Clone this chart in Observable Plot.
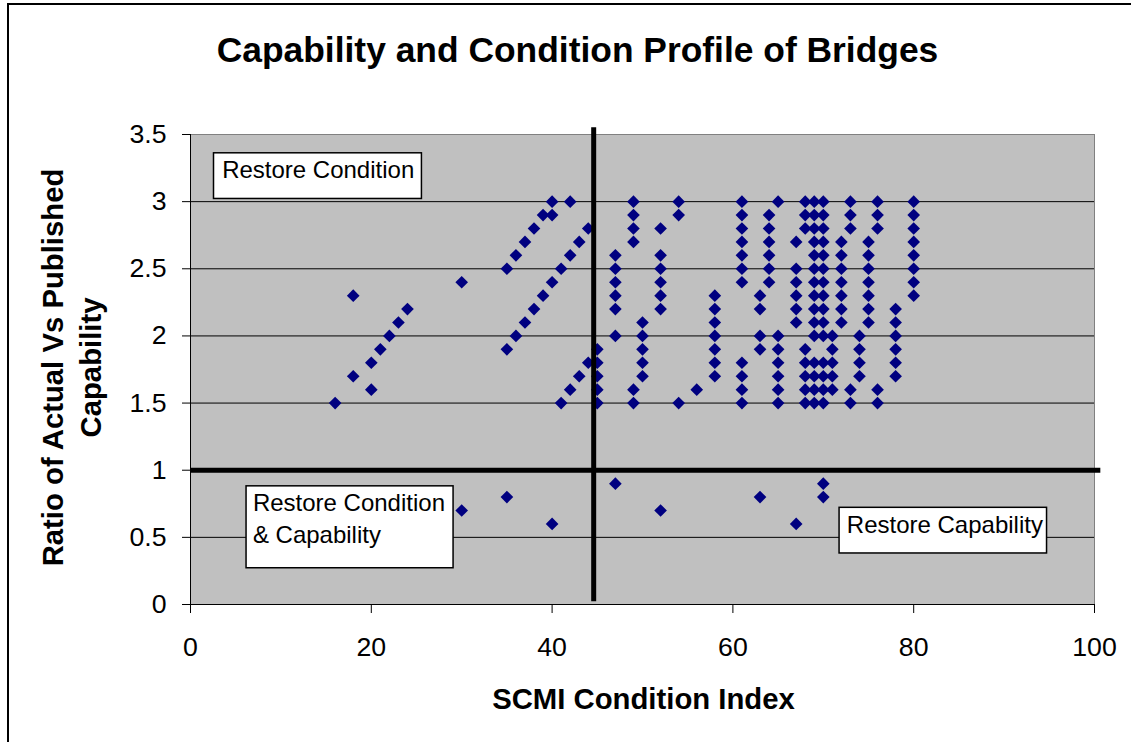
<!DOCTYPE html>
<html>
<head>
<meta charset="utf-8">
<script src="https://cdn.jsdelivr.net/npm/d3@7"></script>
<script src="https://cdn.jsdelivr.net/npm/@observablehq/plot@0.6"></script>
<style>
  html, body { margin: 0; padding: 0; background: #fff; }
  #wrap { position: relative; width: 1131px; height: 742px; overflow: hidden; }
  #border { position: absolute; left: 7px; top: 3px; width: 2000px; height: 2000px;
            border-left: 2px solid #000; border-top: 2px solid #000; }
  #chart { position: absolute; left: 0; top: 0; }
</style>
</head>
<body>
<div id="wrap"><div id="border"></div><div id="chart"></div></div>
<script>
// ---- Data ----
const conditionIndex = [
  16,
  18, 18,
  20, 20, 21, 22, 23, 24,
  30, 30,
  35, 35, 35,
  36, 36, 37, 37, 38, 38, 39, 39,
  40, 40, 40, 40,
  41, 41, 42, 42, 42, 43, 43, 44, 44,
  45, 45, 45, 45, 45,
  47, 47, 47, 47, 47, 47, 47,
  49, 49, 49, 49, 49, 49,
  50, 50, 50, 50, 50,
  52, 52, 52, 52, 52, 52, 52,
  54, 54, 54,
  56,
  58, 58, 58, 58, 58, 58, 58,
  61, 61, 61, 61, 61, 61, 61, 61, 61, 61, 61,
  63, 63, 63, 63, 63,
  64, 64, 64, 64, 64, 64,
  65, 65, 65, 65, 65, 65, 65,
  67, 67, 67, 67, 67, 67, 67,
  68, 68, 68, 68, 68, 68, 68, 68,
  69, 69, 69, 69, 69, 69, 69, 69, 69, 69, 69, 69, 69, 69, 69,
  70, 70, 70, 70, 70, 70, 70, 70, 70, 70, 70, 70, 70, 70, 70, 70, 70,
  71, 71, 71, 71, 71,
  72, 72, 72, 72, 72, 72, 72,
  73, 73, 73, 73, 73,
  74, 74, 74, 74,
  75, 75, 75, 75, 75, 75, 75,
  76, 76, 76, 76, 76,
  78, 78, 78, 78, 78, 78,
  80, 80, 80, 80, 80, 80, 80, 80
];
const capabilityRatio = [
  1.5,
  1.7, 2.3,
  1.6, 1.8, 1.9, 2.0, 2.1, 2.2,
  2.4, 0.7,
  2.5, 1.9, 0.8,
  2.6, 2.0, 2.7, 2.1, 2.8, 2.2, 2.9, 2.3,
  3.0, 2.9, 2.4, 0.6,
  2.5, 1.5, 3.0, 2.6, 1.6, 2.7, 1.7, 2.8, 1.8,
  1.9, 1.8, 1.7, 1.6, 1.5,
  2.6, 2.5, 2.4, 2.3, 2.2, 2.0, 0.9,
  3.0, 2.9, 2.8, 2.7, 1.6, 1.5,
  2.1, 2.0, 1.9, 1.8, 1.7,
  2.8, 2.6, 2.5, 2.4, 2.3, 2.2, 0.7,
  3.0, 2.9, 1.5,
  1.6,
  2.3, 2.2, 2.1, 2.0, 1.9, 1.8, 1.7,
  3.0, 2.9, 2.8, 2.7, 2.6, 2.5, 2.4, 1.8, 1.7, 1.6, 1.5,
  2.3, 2.2, 2.0, 1.9, 0.8,
  2.9, 2.8, 2.7, 2.6, 2.5, 2.4,
  3.0, 2.0, 1.9, 1.8, 1.7, 1.6, 1.5,
  2.7, 2.5, 2.4, 2.3, 2.2, 2.1, 0.6,
  3.0, 2.9, 2.8, 1.9, 1.8, 1.7, 1.6, 1.5,
  3.0, 2.9, 2.8, 2.7, 2.6, 2.5, 2.4, 2.3, 2.2, 2.1, 2.0, 1.8, 1.7, 1.6, 1.5,
  3.0, 2.9, 2.8, 2.7, 2.6, 2.5, 2.4, 2.3, 2.2, 2.1, 2.0, 1.8, 1.7, 1.6, 1.5, 0.9, 0.8,
  2.0, 1.9, 1.8, 1.7, 1.6,
  2.7, 2.6, 2.5, 2.4, 2.3, 2.2, 2.1,
  3.0, 2.9, 2.8, 1.6, 1.5,
  2.0, 1.9, 1.8, 1.7,
  2.7, 2.6, 2.5, 2.4, 2.3, 2.2, 2.1,
  3.0, 2.9, 2.8, 1.6, 1.5,
  2.2, 2.1, 2.0, 1.9, 1.8, 1.7,
  3.0, 2.9, 2.8, 2.7, 2.6, 2.5, 2.4, 2.3
];
const xTicks = [0, 20, 40, 60, 80, 100];
const yTicks = [0, 0.5, 1, 1.5, 2, 2.5, 3, 3.5];
const gridValues = [0.5, 1, 1.5, 2, 2.5, 3];
const conditionThreshold = [44.6];
const capabilityThreshold = [1];
const chartTitle = "Capability and Condition Profile of Bridges";
const xTitle = "SCMI Condition Index";
const yTitle = "Ratio of Actual Vs Published\nCapability";
const quadrantLabels = ["Restore Condition", "Restore Condition\n& Capability", "Restore Capability"];

// ---- Layout (annotation boxes in data units) ----
const boxLayout = [
  {x1: 2.6, x2: 25.6, y1: 3.02, y2: 3.36, tx: 3.5},
  {x1: 6.2, x2: 29.1, y1: 0.27, y2: 0.88, tx: 6.9},
  {x1: 71.8, x2: 94.75, y1: 0.38, y2: 0.72, tx: 72.6}
];
const boxes = boxLayout.map((b, i) => ({...b, label: quadrantLabels[i]}));
const points = conditionIndex.map((x, i) => ({x, y: capabilityRatio[i]}));

const FONT = '"Liberation Sans", Arial, Helvetica, sans-serif';

const chart = Plot.plot({
  width: 1131,
  height: 742,
  marginLeft: 190,
  marginRight: 37,
  marginTop: 134,
  marginBottom: 138,
  style: {fontFamily: FONT, background: "transparent", color: "#000", overflow: "visible"},
  x: {domain: [0, 100]},
  y: {domain: [0, 3.5]},
  marks: [
    Plot.frame({fill: "#C0C0C0"}),
    Plot.gridY(gridValues, {stroke: "#000", strokeOpacity: 1, strokeWidth: 1}),
    Plot.frame({stroke: "#808080", strokeWidth: 1}),
    Plot.ruleX([0], {stroke: "#000", strokeWidth: 1}),
    Plot.ruleY([0], {stroke: "#000", strokeWidth: 1}),
    Plot.axisX(xTicks, {tickSize: 9, tickPadding: 24, fontSize: 26.7, label: null, tickFormat: d => String(d)}),
    Plot.axisY(yTicks, {tickSize: 8, tickPadding: 16, fontSize: 26.7, label: null, tickFormat: d => String(d)}),
    Plot.dot(points, {x: "x", y: "y", symbol: "diamond2", r: 5.7, fill: "#000080"}),
    Plot.ruleX(conditionThreshold, {y1: 0.02, y2: 3.55, stroke: "#000", strokeWidth: 5}),
    Plot.ruleY(capabilityThreshold, {x1: 0, x2: 100.7, stroke: "#000", strokeWidth: 5}),
    Plot.rect(boxes, {x1: "x1", x2: "x2", y1: "y1", y2: "y2", fill: "#fff", stroke: "#000", strokeWidth: 1.5}),
    Plot.text(boxes, {x: "tx", y: "y2", text: "label", textAnchor: "start", lineAnchor: "top",
      dy: 3, fontSize: 24, lineHeight: 1.3, fill: "#000"}),
    Plot.text([chartTitle], {frameAnchor: "top", textAnchor: "middle", lineAnchor: "top",
      dx: -65, dy: -98, fontSize: 35.4, fontWeight: "bold", fill: "#000"}),
    Plot.text([xTitle], {frameAnchor: "bottom", textAnchor: "middle", lineAnchor: "top",
      dx: 1, dy: 84, fontSize: 29.3, fontWeight: "bold", fill: "#000"}),
    Plot.text([yTitle], {frameAnchor: "left", textAnchor: "middle", lineAnchor: "top", rotate: -90,
      dx: -155, dy: -2, fontSize: 29.3, fontWeight: "bold", lineHeight: 1.3, fill: "#000"})
  ]
});
document.getElementById("chart").appendChild(chart);
</script>
</body>
</html>
